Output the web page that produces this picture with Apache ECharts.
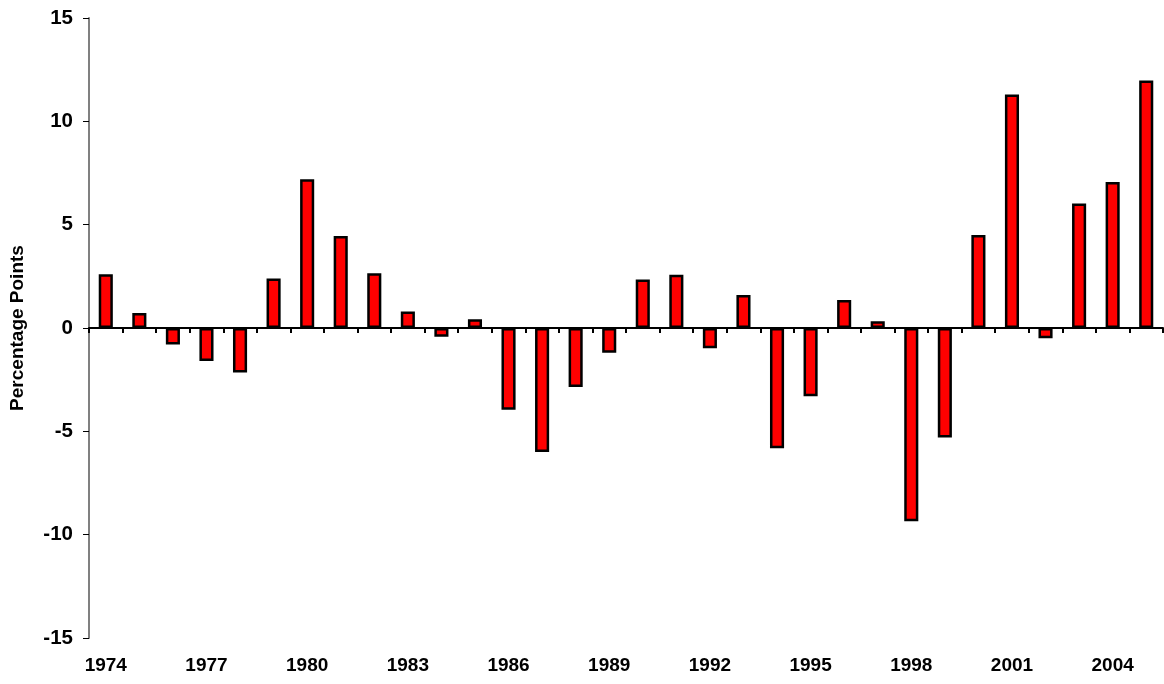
<!DOCTYPE html>
<html>
<head>
<meta charset="utf-8">
<script src="https://cdn.jsdelivr.net/npm/echarts@6/dist/echarts.min.js"></script>
<style>html,body{margin:0;padding:0;background:#fff;}#c{width:1164px;height:684px;}</style>
</head>
<body>
<div id="c"></div>
<script>
const years = ['1974','1975','1976','1977','1978','1979','1980','1981','1982','1983','1984','1985','1986','1987','1988','1989','1990','1991','1992','1993','1994','1995','1996','1997','1998','1999','2000','2001','2002','2003','2004','2005'];
const values = [2.6,0.73,-0.8,-1.6,-2.15,2.4,7.2,4.45,2.65,0.8,-0.42,0.42,-3.95,-6.0,-2.85,-1.2,2.35,2.58,-0.98,1.6,-5.82,-3.3,1.35,0.33,-9.35,-5.3,4.5,11.3,-0.5,6.03,7.07,11.97];
const yTicks = {min: -15, max: 15, interval: 5};
const yTitle = 'Percentage Points';

const font = 'Liberation Sans, Arial, sans-serif';
const chart = echarts.init(document.getElementById('c'), null, {renderer: 'canvas'});
chart.setOption({
  animation: false,
  backgroundColor: '#ffffff',
  grid: {left: 89, right: 1, top: 18, bottom: 46, containLabel: false, outerBoundsMode: 'none'},
  xAxis: [
    {
      type: 'category', data: years, position: 'bottom',
      axisLine: {show: false, onZero: false}, axisTick: {show: false},
      axisLabel: {interval: 2, color: '#000', fontFamily: font, fontWeight: 'bold', fontSize: 19, margin: 18}
    },
    {
      type: 'category', data: years, position: 'bottom',
      axisLine: {show: true, onZero: true, lineStyle: {color: '#000', width: 2}},
      axisTick: {show: true, interval: 0, length: 5, lineStyle: {color: '#000', width: 2}},
      axisLabel: {show: false}
    }
  ],
  yAxis: {
    type: 'value', min: yTicks.min, max: yTicks.max, interval: yTicks.interval,
    name: yTitle, nameLocation: 'middle', nameGap: 62, nameRotate: 90,
    nameTextStyle: {color: '#000', fontFamily: font, fontWeight: 'bold', fontSize: 19},
    axisLine: {show: true, lineStyle: {color: '#808080', width: 2}},
    axisTick: {show: true, length: 6, lineStyle: {color: '#000', width: 1}},
    splitLine: {show: false},
    axisLabel: {color: '#000', fontFamily: font, fontWeight: 'bold', fontSize: 20.5, margin: 16}
  },
  series: [{
    type: 'bar', data: values, xAxisIndex: 0,
    barWidth: '42%',
    itemStyle: {color: '#ff0000', borderColor: '#000', borderWidth: 2.5}
  }]
});
</script>
</body>
</html>
